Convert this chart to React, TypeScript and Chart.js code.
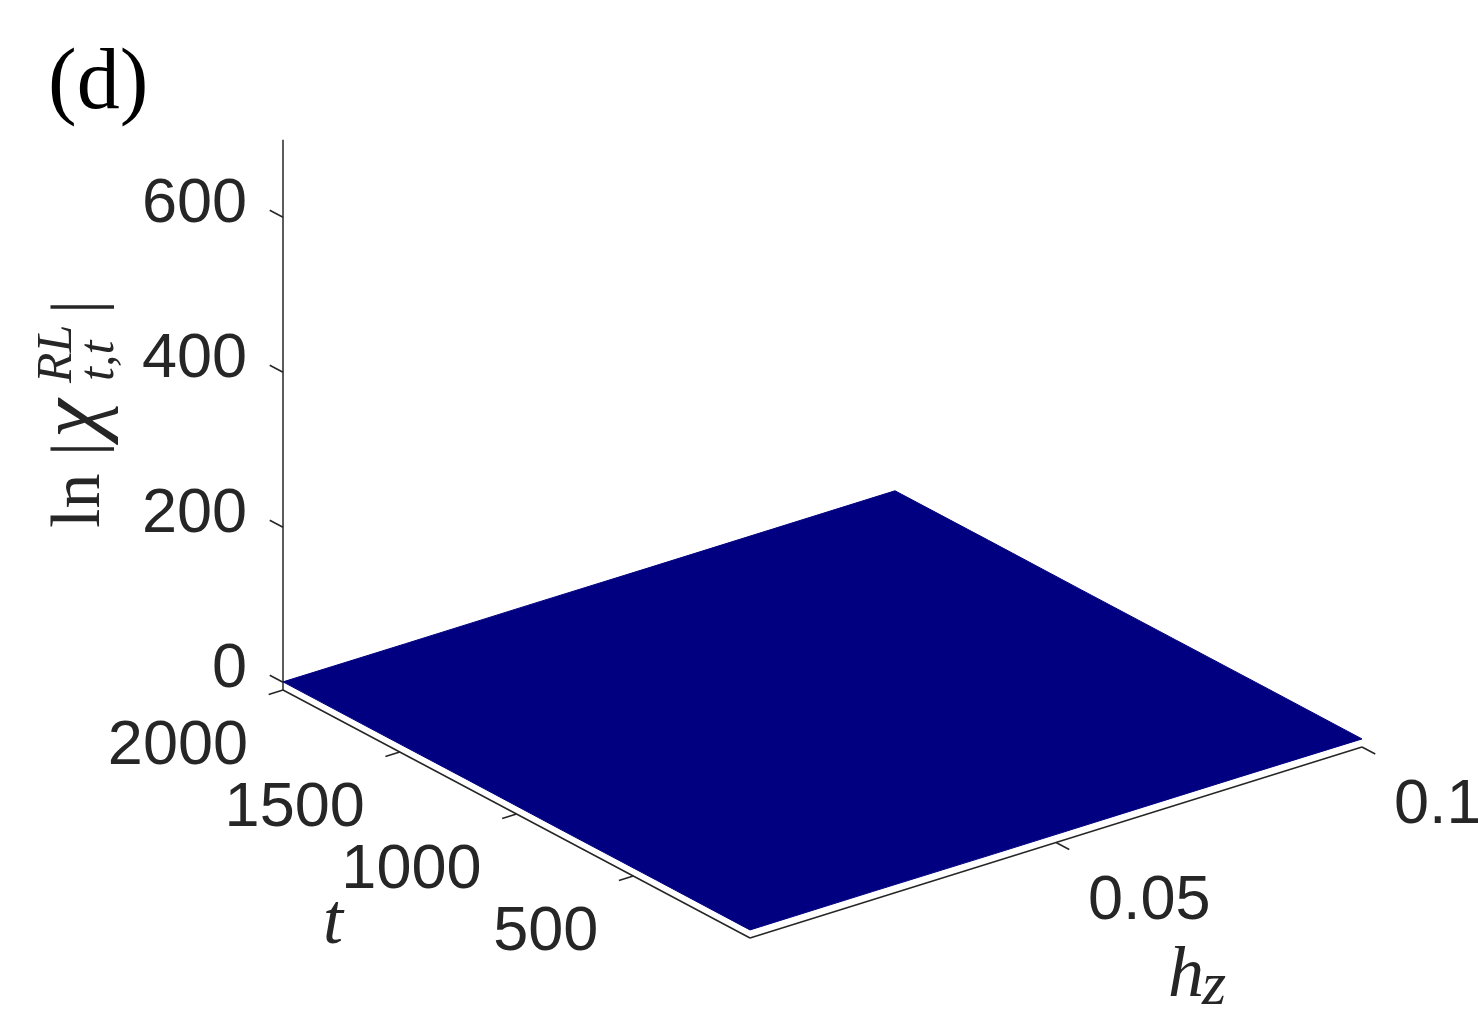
import React, { useEffect, useRef } from "react";
import { Chart, registerables } from "chart.js";

Chart.register(...registerables);

// ---- data ----
const hzRange = [0, 0.1];
const tRange = [0, 2000];
const zRange = [-10, 700];

const hzTicks = [0.05, 0.1];
const hzTickLabels = ["0.05", "0.1"];
const tTicks = [500, 1000, 1500, 2000];
const tTickLabels = ["500", "1000", "1500", "2000"];
const zTicks = [0, 200, 400, 600];
const zTickLabels = ["0", "200", "400", "600"];

const hzGrid = [0, 0.02, 0.04, 0.06, 0.08, 0.1];
const tGrid = [0, 400, 800, 1200, 1600, 2000];
// ln|chi| on the grid (rows: t, columns: hz) — essentially flat near 0
const zRow0 = [0.4, 0.6, 0.3, 0.5, 0.7, 0.4];
const zRow1 = [0.5, 0.3, 0.6, 0.4, 0.5, 0.6];
const zRow2 = [0.3, 0.5, 0.4, 0.6, 0.3, 0.5];
const zRow3 = [0.6, 0.4, 0.5, 0.3, 0.6, 0.4];
const zRow4 = [0.4, 0.6, 0.3, 0.5, 0.4, 0.7];
const zRow5 = [0.5, 0.4, 0.6, 0.4, 0.5, 0.6];
const zSurface = [zRow0, zRow1, zRow2, zRow3, zRow4, zRow5];

const titleText = "(d)";
const xLabelText = "h";
const xLabelSub = "z";
const yLabelText = "t";

const W = 1478;
const H = 1013;

// ---- view (camera) ----
const ORIGIN = { x: 750, y: 938 }; // (hz min, t min, z min)
const HZ_VEC = { x: 612, y: -191 }; // full hz range
const T_VEC = { x: -467, y: -248 }; // full t range
const Z_PX = 0.775; // px per unit z

function project(hz: number, t: number, z: number) {
  const a = (hz - hzRange[0]) / (hzRange[1] - hzRange[0]);
  const b = (t - tRange[0]) / (tRange[1] - tRange[0]);
  return {
    x: ORIGIN.x + a * HZ_VEC.x + b * T_VEC.x,
    y: ORIGIN.y + a * HZ_VEC.y + b * T_VEC.y - (z - zRange[0]) * Z_PX,
  };
}

function unit(v: { x: number; y: number }) {
  const l = Math.hypot(v.x, v.y);
  return { x: v.x / l, y: v.y / l };
}

const AXIS_COLOR = "rgb(38,38,38)";
const SURF_COLOR = "rgb(0,0,128)";
const TICK_LEN = 15;
const SERIF = '"Liberation Serif", "Times New Roman", serif';

export default function App() {
  const ref = useRef<HTMLCanvasElement | null>(null);

  useEffect(() => {
    document.body.style.margin = "0";
    const canvas = ref.current!;
    const zMin = zRange[0];

    // surface boundary
    const nh = hzGrid.length;
    const nt = tGrid.length;
    const boundary: { x: number; y: number }[] = [];
    const last = nt - 1;
    for (let j = 0; j < nh; j++) boundary.push(project(hzGrid[j], tGrid[last], zSurface[last][j]));
    for (let i = last; i >= 0; i--) boundary.push(project(hzGrid[nh - 1], tGrid[i], zSurface[i][nh - 1]));
    for (let j = nh - 1; j >= 0; j--) boundary.push(project(hzGrid[j], tGrid[0], zSurface[0][j]));
    for (let i = 0; i <= last; i++) boundary.push(project(hzGrid[0], tGrid[i], zSurface[i][0]));

    const axisDs = (pts: { x: number; y: number }[]) => ({
      data: pts,
      showLine: true,
      borderColor: AXIS_COLOR,
      borderWidth: 1.5,
      pointRadius: 0,
      fill: false,
    });

    const datasets: any[] = [];
    datasets.push({
      data: boundary,
      showLine: true,
      borderColor: SURF_COLOR,
      backgroundColor: SURF_COLOR,
      borderWidth: 1,
      pointRadius: 0,
      fill: "shape",
      tension: 0,
    });
    // axes
    datasets.push(axisDs([project(hzRange[0], tRange[0], zMin), project(hzRange[1], tRange[0], zMin)]));
    datasets.push(axisDs([project(hzRange[0], tRange[0], zMin), project(hzRange[0], tRange[1], zMin)]));
    datasets.push(axisDs([project(hzRange[0], tRange[1], zMin), project(hzRange[0], tRange[1], zRange[1])]));

    const tDir = unit(T_VEC);
    const hzDir = unit(HZ_VEC);
    const tickLabelPos: { x: number; y: number; text: string; align: CanvasTextAlign }[] = [];

    zTicks.forEach((z, i) => {
      const p = project(hzRange[0], tRange[1], z);
      datasets.push(axisDs([p, { x: p.x + tDir.x * TICK_LEN, y: p.y + tDir.y * TICK_LEN }]));
      tickLabelPos.push({ x: p.x - 36, y: p.y - 13, text: zTickLabels[i], align: "right" });
    });
    tTicks.forEach((t, i) => {
      const p = project(hzRange[0], t, zMin);
      datasets.push(axisDs([p, { x: p.x - hzDir.x * TICK_LEN, y: p.y - hzDir.y * TICK_LEN }]));
      tickLabelPos.push({ x: p.x - 35, y: p.y + 57, text: tTickLabels[i], align: "right" });
    });
    hzTicks.forEach((hz, i) => {
      const p = project(hz, tRange[0], zMin);
      datasets.push(axisDs([p, { x: p.x - tDir.x * TICK_LEN, y: p.y - tDir.y * TICK_LEN }]));
      tickLabelPos.push({ x: p.x + 32, y: p.y + 59, text: hzTickLabels[i], align: "left" });
    });

    const textPlugin = {
      id: "texts",
      afterDatasetsDraw(chart: any) {
        const ctx = chart.ctx as CanvasRenderingContext2D;
        const sx = chart.scales.x;
        const sy = chart.scales.y;
        const px = (x: number) => sx.getPixelForValue(x);
        const py = (y: number) => sy.getPixelForValue(y);
        ctx.save();
        // tick labels
        ctx.fillStyle = AXIS_COLOR;
        ctx.font = '63px "Liberation Sans", Arial, sans-serif';
        ctx.textBaseline = "middle";
        tickLabelPos.forEach((l) => {
          ctx.textAlign = l.align;
          ctx.fillText(l.text, px(l.x), py(l.y));
        });
        // title
        ctx.fillStyle = "#000";
        ctx.textAlign = "left";
        ctx.textBaseline = "alphabetic";
        ctx.font = "86px " + SERIF;
        ctx.fillText(titleText, 48, 108);
        // t label
        ctx.fillStyle = AXIS_COLOR;
        ctx.font = "italic 72px " + SERIF;
        ctx.fillText(yLabelText, 323, 943);
        // h_z label
        ctx.fillText(xLabelText, 1168, 996);
        const hw = ctx.measureText(xLabelText).width;
        ctx.font = "italic 62px " + SERIF;
        ctx.fillText(xLabelSub, 1166 + hw, 1004);
        // z label (rotated)
        ctx.translate(99, 528);
        ctx.rotate(-Math.PI / 2);
        ctx.font = "70px " + SERIF;
        ctx.fillText("ln", 0, 0);
        ctx.fillText("|", 72, 0);
        ctx.font = "italic 88px " + SERIF;
        ctx.fillText("χ", 90, 0);
        ctx.font = "italic 50px " + SERIF;
        ctx.fillText("RL", 145, -28);
        ctx.fillText("t,t", 147, 14);
        ctx.font = "70px " + SERIF;
        ctx.fillText("|", 214, 0);
        ctx.restore();
      },
    };

    const chart = new Chart(canvas, {
      type: "scatter",
      data: { datasets },
      options: {
        animation: false,
        responsive: false,
        maintainAspectRatio: false,
        layout: { padding: 0 },
        plugins: { legend: { display: false }, tooltip: { enabled: false } },
        scales: {
          x: { type: "linear", min: 0, max: W, display: false },
          y: { type: "linear", min: 0, max: H, reverse: true, display: false },
        },
      },
      plugins: [textPlugin],
    });
    return () => chart.destroy();
  }, []);

  return (
    <div style={{ position: "absolute", left: 0, top: 0, width: W, height: H, background: "#fff" }}>
      <canvas ref={ref} width={W} height={H} style={{ width: W, height: H, display: "block" }} />
    </div>
  );
}
